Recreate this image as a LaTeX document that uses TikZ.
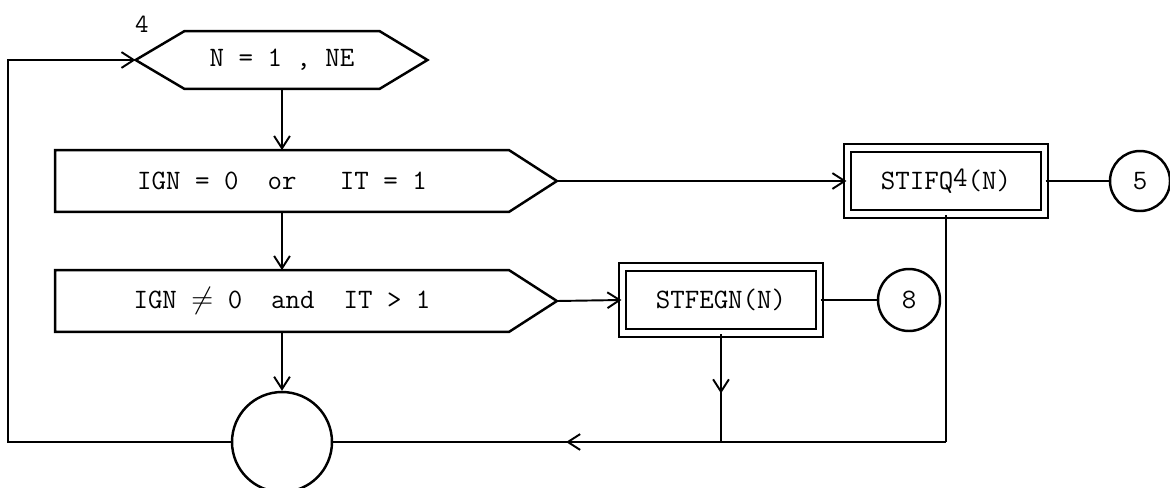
\documentclass[tikz,border=0pt]{standalone}
\usepackage{tikz}
\usetikzlibrary{arrows.meta,decorations.markings}

\begin{document}
\begin{tikzpicture}[x=0.02cm,y=-0.02cm,line width=1.1pt,
  >={Straight Barb[length=7pt,width=9pt]},
  txt/.style={font=\ttfamily\fontsize{16}{18}\selectfont},
  body/.style={txt,inner sep=0pt,minimum height=#1},
  outline/.style={line width=1.4pt,line join=miter},
  proc/.style={txt,draw,double,line width=1.2pt,double distance=3.2pt,
    minimum width=3.94cm,minimum height=1.32cm,inner sep=0pt},
  conn/.style={txt,draw,circle,line width=1.4pt,minimum size=#1,inner sep=0pt},
  midarrow/.style={postaction={decorate},decoration={markings,
    mark=at position #1 with {\arrow{Straight Barb[length=7pt,width=9pt]}}}}]
\useasboundingbox (0,0) rectangle (1170,487);

% loop head
\node[body=1.12cm,minimum width=3.86cm] (init) at (282,60) {N = 1 , NE};
\coordinate (initL) at ([xshift=-0.98cm]init.west);
\coordinate (initR) at ([xshift=0.96cm]init.east);
\draw[outline] (init.north west) -- (init.north east) -- (initR) -- (init.south east)
  -- (init.south west) -- (initL) -- cycle;
\node[font=\ttfamily\fontsize{15}{17}\selectfont] (lbl) at (142,24) {4};

% tests
\node[body=1.2cm,minimum width=9.04cm] (testA) at (282,181) {IGN = 0~~or~~~IT = 1};
\coordinate (testAtip) at ([xshift=0.96cm]testA.east);
\draw[outline] (testA.north west) -- (testA.north east) -- (testAtip) -- (testA.south east)
  -- (testA.south west) -- cycle;

\node[body=1.2cm,minimum width=9.04cm] (testB) at (282,301) {IGN $\neq$ 0~~and~~IT > 1};
\coordinate (testBtip) at ([xshift=0.96cm]testB.east);
\draw[outline] (testB.north west) -- (testB.north east) -- (testBtip) -- (testB.south east)
  -- (testB.south west) -- cycle;

% calls and exits
\node[proc] (stifq) at (946,181) {STIFQ\raisebox{2pt}{4}(N)};
\node[conn=1.2cm] (c5) at (1140,181) {5};
\node[proc] (stfegn) at (721,300) {STFEGN(N)};
\node[conn=1.24cm] (c8) at (909,300) {8};
\node[conn=2cm] (junc) at (282,442) {};

\coordinate (br) at (stifq.south |- junc);
\coordinate (bl) at (8,442);
\coordinate (tl) at (8,60);

\draw[->] (init.south) -- (testA.north);
\draw[->] (testA.south) -- (testB.north);
\draw[->] (testB.south) -- (junc.north);
\draw[->] (testAtip) -- (stifq.west);
\draw[->] (testBtip) -- (stfegn.west);
\draw (stifq.east) -- (c5.west);
\draw (stfegn.east) -- (c8.west);
\draw (stifq.south) -- (br);
\draw[midarrow=0.62] (br) -- (junc.east);
\draw[midarrow=0.55] (stfegn.south) -- (stfegn.south |- junc);
\draw[->] (junc.west) -- (bl) -- (tl) -- (initL);
\end{tikzpicture}
\end{document}
